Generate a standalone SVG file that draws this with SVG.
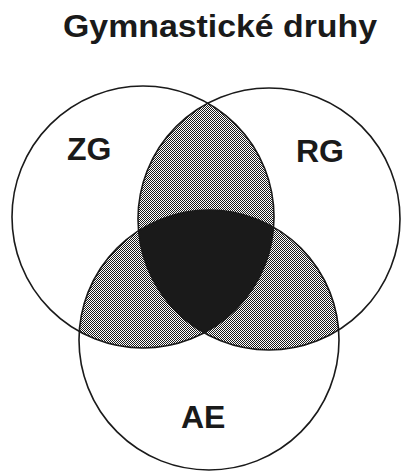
<svg xmlns="http://www.w3.org/2000/svg" width="401" height="471" viewBox="0 0 401 471">
  <style>
    .ring { fill: none; stroke: #1a1a1a; stroke-width: 1.6; }
    .lbl { font-family: "Liberation Sans", Arial, sans-serif; font-weight: bold; font-size: 32px; fill: #1a1a1a; }
    .dither { fill: url(#checker); }
    .solid { fill: #1a1a1a; }
  </style>
  <defs>
    <pattern id="checker" x="0" y="0" width="2" height="2" patternUnits="userSpaceOnUse">
      <rect x="0" y="0" width="2" height="2" fill="#ffffff"/>
      <rect x="0" y="0" width="1" height="1" fill="#1a1a1a"/>
      <rect x="1" y="1" width="1" height="1" fill="#1a1a1a"/>
    </pattern>
    <clipPath id="clipZG"><circle cx="143" cy="217" r="131"/></clipPath>
    <clipPath id="clipRG"><circle cx="269" cy="219" r="131"/></clipPath>
  </defs>
  <rect width="401" height="471" fill="#ffffff"/>
  <text class="lbl" x="63" y="37" textLength="314" lengthAdjust="spacingAndGlyphs">Gymnastické druhy</text>

  <g id="overlaps">
    <circle class="dither" cx="269" cy="219" r="131" clip-path="url(#clipZG)"/>
    <circle class="dither" cx="209" cy="340" r="130" clip-path="url(#clipZG)"/>
    <circle class="dither" cx="209" cy="340" r="130" clip-path="url(#clipRG)"/>
    <g clip-path="url(#clipZG)">
      <circle class="solid" cx="209" cy="340" r="130" clip-path="url(#clipRG)"/>
    </g>
  </g>

  <g id="ZG">
    <circle class="ring" cx="143" cy="217" r="131"/>
    <text class="lbl" x="67" y="160">ZG</text>
  </g>
  <g id="RG">
    <circle class="ring" cx="269" cy="219" r="131"/>
    <text class="lbl" x="296" y="162">RG</text>
  </g>
  <g id="AE">
    <circle class="ring" cx="209" cy="340" r="130"/>
    <text class="lbl" x="181" y="428">AE</text>
  </g>
  <g id="connectors"/>
</svg>
